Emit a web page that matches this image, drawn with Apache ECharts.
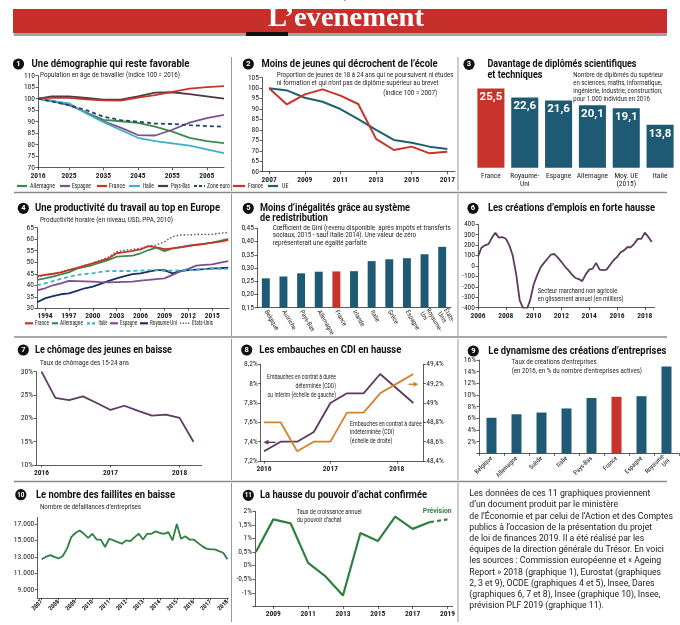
<!DOCTYPE html>
<html lang="fr"><head><meta charset="utf-8">
<script src="https://cdn.jsdelivr.net/npm/echarts@6/dist/echarts.min.js"></script>
<style>html,body{margin:0;padding:0;background:#fff;}#c{width:680px;height:625px;}</style>
</head><body><div id="c"></div>
<script>
// ================= DATA =================
// 1 - démographie
const demoYears = [2016,2020,2025,2030,2035,2040,2045,2050,2055,2060,2065,2070];
const demoAllemagne = [100,99,97.5,94,90.8,90.2,89.5,87.9,85.7,83,81.6,80.7];
const demoEspagne = [100,99,97.2,94,90.2,87.4,84.2,84,86.5,89.6,91.6,93];
const demoFrance = [100,100.5,100.4,99.7,99.3,99.2,100.5,101.6,103,104.4,105,105.5];
const demoItalie = [100,99,98,93.6,89.8,86.4,83,81.6,80.6,79.6,78,76.3];
const demoPaysBas = [100,101,101,100.3,99.6,99.6,101,102.6,102.8,102,101,100];
const demoZoneEuro = [100,98.8,97.2,95,92.2,90.7,90,89.2,89,88.5,88.1,87.8];
const demoTickYears = [2016,2025,2035,2045,2055,2065];
// 2 - décrochage
const ecoleYears = [2007,2008,2009,2010,2011,2012,2013,2014,2015,2016,2017];
const ecoleFrance = [100,92.2,97,99.4,96.4,92.4,75.7,70.4,72,68.8,69.6];
const ecoleUE = [100,98.9,95.4,93.5,90,85.2,80,75.2,73.9,72,70.9];
const ecoleTickYears = [2007,2009,2011,2013,2015,2017];
// 3 - diplômés
const diplomesPays = ['France','Royaume-\nUni','Espagne','Allemagne','Moy. UE\n(2015)','Italie'];
const diplomesValeurs = [25.5,22.6,21.6,20.1,19.1,13.8];
// 4 - productivité
const prodYears = [1993,1994,1995,1996,1997,1998,1999,2000,2001,2002,2003,2004,2005,2006,2007,2008,2009,2010,2011,2012,2013,2014,2015,2016,2017];
const prodFrance = [44.0,44.5,45.0,45.6,46.6,47.5,48.5,49.5,50.6,51.7,53.9,54.4,54.9,55.6,57.0,56.5,55.7,56.0,56.5,57.0,57.5,58.0,58.5,59.0,59.6];
const prodAllemagne = [42.3,43.0,43.8,44.7,45.6,47.2,48.0,48.8,49.9,51.0,52.4,52.7,52.9,53.9,55.3,56.3,54.8,56.0,56.6,57.2,57.6,58.0,58.5,59.3,60.1];
const prodItalie = [40.0,40.8,41.8,42.8,43.7,44.5,44.9,45.2,45.8,46.2,46.2,46.2,46.2,46.4,46.6,46.5,46.2,46.4,46.5,46.6,46.8,47.0,47.1,47.1,47.1];
const prodEspagne = [37.8,38.7,40.0,40.8,41.9,41.8,41.7,41.6,41.4,41.3,41.4,41.5,41.6,42.0,42.3,42.7,43.0,44.5,46.0,47.1,48.5,48.9,49.1,49.8,50.5];
const prodRoyaumeUni = [32.6,34.3,35.3,36.1,36.5,37.6,38.7,39.4,40.6,41.9,43.0,44.0,44.8,45.2,45.9,46.6,46.6,45.2,46.2,46.6,46.8,47.0,47.3,47.4,47.6];
const prodEtatsUnis = [43.6,44.3,44.8,45.8,46.8,47.6,48.6,49.6,50.8,52.3,54.6,55.2,55.6,56.0,56.9,57.5,58.9,61.1,61.8,61.9,62.0,62.1,62.1,62.6,63.0];
const prodTickYears = [1994,1997,2000,2003,2006,2009,2012,2015];
// 5 - Gini
const giniPays = ['Belgique','Autriche','Pays-Bas','Allemagne','France','Irlande','Italie','Grèce','Espagne','Royaume-\nUni','États-\nUnis'];
const giniValeurs = [0.261,0.268,0.280,0.286,0.287,0.288,0.326,0.333,0.337,0.352,0.380];
// 6 - créations d'emplois (trimestriel, depuis 2006 T1)
const emploiDebut = 2006;
const emploiValeurs = [90,175,198,210,270,318,272,278,262,200,100,-80,-330,-405,-418,-330,-180,-90,-15,30,70,110,115,80,40,-5,-40,-80,-115,-125,-145,-80,-35,-25,30,-35,-40,-35,10,55,85,130,150,180,180,215,260,260,320,280,230];
const emploiTickYears = [2006,2008,2010,2012,2014,2016,2018];
// 7 - chômage des jeunes
const chomageDates = [2016,2016.2,2016.4,2016.6,2016.8,2017,2017.2,2017.4,2017.6,2017.8,2018,2018.2];
const chomageValeurs = [30,24.4,23.9,24.7,23.3,21.8,22.7,21.6,20.6,20.8,20.1,15.0];
const chomageTickYears = [2016,2017,2018];
// 8 - embauches
const embDates = [2016,2016.25,2016.5,2016.75,2017,2017.25,2017.5,2017.75,2018,2018.25];
const embCDD = [7.3,7.4,7.4,7.5,7.8,7.9,7.9,8.1,7.95,7.8];
const embCDI = [48.8,48.8,48.5,48.6,48.6,48.9,48.9,49.1,49.2,49.3];
const embTickYears = [2016,2017,2018];
// 9 - créations d'entreprises
const entPays = ['Belgique','Allemagne','Suède','Italie','Pays-Bas','France','Espagne','Royaume-\nUni'];
const entValeurs = [6.1,6.7,7.0,7.7,9.5,9.7,9.8,14.9];
// 10 - faillites (trimestriel, depuis 2007 T1)
const faillitesDebut = 2007;
const faillitesValeurs = [12700,13000,13200,13000,12800,13100,14000,15400,15900,16200,15800,15300,15800,15100,15100,14200,15200,15000,14800,14600,15000,14900,15400,15800,15100,15800,15800,16100,15900,15800,16000,15000,17000,15200,15500,15100,15100,14700,14300,14000,13900,13900,13700,13500,12700];
const faillitesTickYears = [2007,2008,2009,2010,2011,2012,2013,2014,2015,2016,2017,2018];
const faillitesTickValues = [9000,11000,13000,15000,17000];
// 11 - pouvoir d'achat
const paYears = [2008,2009,2010,2011,2012,2013,2014,2015,2016,2017,2018];
const paValeurs = [0.5,1.7,1.55,0.1,-0.4,-1.1,1.2,0.9,1.8,1.35,1.6];
const paPrevYears = [2018,2019];
const paPrevValeurs = [1.6,1.7];
const paTickYears = [2009,2011,2013,2015,2017,2019];

// ================= STYLE / LAYOUT =================
const mctx = document.createElement('canvas').getContext('2d');
function tw(t, font){ mctx.font = font; return mctx.measureText(t).width; }
function hasFont(f){ const s='AllemagneWwIi1234'; return Math.abs(tw(s,'20px monospace')-tw(s,"20px '"+f+"', monospace"))>0.5; }
const NARROW = ['Liberation Sans Narrow','Roboto Condensed','DejaVu Sans Condensed'].find(hasFont);
const FF = "Roboto, 'Noto Sans', sans-serif";
const NF = NARROW ? "'"+NARROW+"', Roboto, sans-serif" : FF;
const LBL = NARROW ? {fontFamily:NF, fontSize:7.5} : {fontFamily:FF, fontSize:6.8};

const RED='#c8332b', BLUE='#1f5a75', GREEN='#2f8040', PLUM='#5e3a5e', ORANGE='#d4802c';
const cAll='#3b8a4a', cEsp='#7d4f8c', cIta='#3fb0c6', cPB='#4a3a45', cZE='#1e4766', cUE='#1d616c', cRU='#1c2f66', cUS='#555';

const AL = {show:true, onZero:false, lineStyle:{color:'#333', width:0.8}};
const AT = {show:true, length:2.5, lineStyle:{color:'#333', width:0.8}};
const lab = (o) => Object.assign({color:'#222', margin:3}, LBL, o||{});
const fmtNum = v => String(+(+v).toFixed(2)).replace('.', ',');

function g(l,t,w,h){ return {left:l, top:t, width:w, height:h, containLabel:false, outerBoundsMode:'none'}; }
const grids = [
  g(38,75.7,186,92), g(262,77.7,193,94), g(474,74.4,203,93.3),
  g(37,227.7,192,80.6), g(257,228.3,194,79.4), g(478,224.3,176.5,83.4),
  g(36,371.7,165.7,93.3), g(260.7,364.3,162.6,96.7), g(479,360,200,93.4),
  g(37.3,517.4,191,80.5), g(255,511.2,197.7,95.2)
];
function vx(gi,min,max,ticks,extra){
  return Object.assign({gridIndex:gi, type:'value', min, max, splitLine:{show:false}, axisLine:AL,
    axisTick:Object.assign({}, AT, {customValues:ticks}),
    axisLabel:lab({customValues:ticks, formatter:v=>String(v), fontWeight:'bold', margin:4})}, extra||{});
}
function vy(gi,min,max,interval,fmt,extra){
  return Object.assign({gridIndex:gi, type:'value', min, max, interval, splitLine:{show:false}, axisLine:AL, axisTick:AT,
    axisLabel:lab({formatter:fmt})}, extra||{});
}
const xAxes = [
  vx(0,2016,2070,demoTickYears),
  vx(1,2006.6,2017.43,ecoleTickYears),
  {gridIndex:2, type:'category', data:diplomesPays, axisLine:{show:false}, axisTick:{show:false},
    axisLabel:lab({interval:0, lineHeight:8, margin:4})},
  vx(3,1993,2017.1,prodTickYears),
  {gridIndex:4, type:'category', data:giniPays, axisLine:AL, axisTick:{show:false},
    axisLabel:lab({interval:0, rotate:-60, fontSize:6.5, lineHeight:7, margin:3})},
  vx(5,2006,2018.7,emploiTickYears),
  vx(6,2015.92,2018.32,chomageTickYears),
  vx(7,2015.95,2018.4,embTickYears),
  {gridIndex:8, type:'category', data:entPays, axisLine:AL, axisTick:Object.assign({},AT),
    axisLabel:lab({interval:0, rotate:45, fontSize:6.5, lineHeight:7, margin:4})},
  vx(9,2006.74,2018.05,faillitesTickYears,{axisLabel:lab({customValues:faillitesTickYears, formatter:v=>String(v), rotate:45, fontSize:6.2, fontWeight:'bold', margin:3})}),
  vx(10,2007.95,2019.3,paTickYears)
];
const yAxes = [
  vy(0,70,110,5,v=>String(v)),
  vy(1,60,105,5,v=>String(v)),
  {gridIndex:2, type:'value', min:0, max:30, show:false},
  vy(3,30,65,5,v=>String(v)),
  vy(4,0.15,0.45,0.05,v=>v.toFixed(2).replace('.',',')),
  vy(5,-400,400,100,v=>String(v)),
  vy(6,10,30,5,v=>v+'%'),
  vy(7,7.2,8.2,0.2,v=>fmtNum(v)+'%'),
  vy(7,48.4,49.4,0.2,v=>fmtNum(v)+'%',{position:'right'}),
  vy(8,0,16,2,v=>v===0?'':v+'%'),
  {gridIndex:9, type:'value', min:8000, max:17800, splitLine:{show:false}, axisLine:AL,
    axisTick:Object.assign({},AT,{customValues:faillitesTickValues}),
    axisLabel:lab({customValues:faillitesTickValues, formatter:v=>(v/1000)+'.000'})},
  vy(10,-1.5,2,0.5,v=>v===-1.5?'':fmtNum(v)+'%')
];

function ln(name, xi, yi, xs, ys, color, width, dash, z){
  return {name, type:'line', xAxisIndex:xi, yAxisIndex:yi, data:xs.map((x,i)=>[x,ys[i]]),
    symbol:'none', silent:true, z:z||2, lineStyle:{color, width:width||1.8, type:dash||'solid', cap:'butt'}, itemStyle:{color}};
}
const emploiX = emploiValeurs.map((v,i)=>emploiDebut+i/4);
const faillitesX = faillitesValeurs.map((v,i)=>faillitesDebut+i/4);

const series = [
  ln('Allemagne',0,0,demoYears,demoAllemagne,cAll),
  ln('Espagne',0,0,demoYears,demoEspagne,cEsp),
  ln('Italie',0,0,demoYears,demoItalie,cIta),
  ln('Pays-Bas',0,0,demoYears,demoPaysBas,cPB),
  ln('France',0,0,demoYears,demoFrance,RED),
  ln('Zone euro',0,0,demoYears,demoZoneEuro,cZE,1.8,[4,3]),

  ln('UE',1,1,ecoleYears,ecoleUE,cUE,2),
  ln('France2',1,1,ecoleYears,ecoleFrance,RED,2),

  {type:'bar', xAxisIndex:2, yAxisIndex:2, barWidth:'80%', silent:true,
    data:diplomesValeurs.map((v,i)=>({value:v, itemStyle:{color: diplomesPays[i]==='France'?RED:BLUE}})),
    label:{show:true, position:'insideTop', distance:3, color:'#fff', fontFamily:FF, fontWeight:'bold', fontSize:11.5,
      formatter:p=>String(p.value).replace('.',',')}},

  ln('États-Unis',3,3,prodYears,prodEtatsUnis,cUS,1.4,[1.5,2]),
  ln('Royaume-Uni',3,3,prodYears,prodRoyaumeUni,cRU),
  ln('Espagne4',3,3,prodYears,prodEspagne,cEsp),
  ln('Italie4',3,3,prodYears,prodItalie,cIta,1.8,[4,3]),
  ln('Allemagne4',3,3,prodYears,prodAllemagne,cAll),
  ln('France4',3,3,prodYears,prodFrance,RED),

  {type:'bar', xAxisIndex:4, yAxisIndex:4, barWidth:'45%', silent:true,
    data:giniValeurs.map((v,i)=>({value:v, itemStyle:{color: giniPays[i]==='France'?RED:BLUE}}))},

  ln('emplois',5,5,emploiX,emploiValeurs,PLUM,1.8),
  ln('chomage',6,6,chomageDates,chomageValeurs,PLUM,1.8),
  ln('CDD',7,7,embDates,embCDD,PLUM,1.8),
  ln('CDI',7,8,embDates,embCDI,ORANGE,1.8),

  {type:'bar', xAxisIndex:8, yAxisIndex:9, barWidth:'40%', silent:true,
    data:entValeurs.map((v,i)=>({value:v, itemStyle:{color: entPays[i]==='France'?RED:BLUE}}))},

  ln('faillites',9,10,faillitesX,faillitesValeurs,GREEN,1.8),
  ln('pa',10,11,paYears,paValeurs,GREEN,2.2),
  ln('paPrev',10,11,paPrevYears,paPrevValeurs,GREEN,2.2,[4,3])
];

// ================= GRAPHIC (titles, texts, separators) =================
const E = [];
function add(type, props){ E.push(Object.assign({type, silent:true}, props)); }
function rect(x,y,w,h,fill){ add('rect',{shape:{x,y,width:w,height:h},style:{fill}}); }
function seg(x1,y1,x2,y2,stroke,w,dash){ add('line',{shape:{x1,y1,x2,y2},style:{stroke,lineWidth:w,lineDash:dash||null}}); }
function txt(x,y,s,font,fill,align,sx){ add('text',{x,y,scaleX:sx||1,style:{text:s,font,fill,align:align||'left',verticalAlign:'middle'}}); }
function fit(x,y,s,font,fill,w,align){ txt(x,y,s,font,fill,align,w/tw(s,font)); }
function lines(x,y,arr,font,fill,w0,lh,align){ const sx=w0/tw(arr[0],font); arr.forEach((s,i)=>txt(x,y+i*lh,s,font,fill,align,sx)); }

// header
txt(340,-3.5,'dimanche 30 septembre 2018','bold 9px '+FF,'#d0605a','center');
rect(13,9,654,24,'#c7302a');
rect(14,33,653,3,'#a3a3a3');
rect(246,32,42,4,'#111');
fit(346,19.5,'L’evenement',"bold 27px 'Liberation Serif', 'DejaVu Serif', serif",'#fff',156,'center');

// separators
[192.5,337,481.5].forEach(y=>seg(14,y,667,y,'#8a8a8a',1.5));
[[57,191],[194,336],[339,480],[483,622]].forEach(([a,b])=>{ seg(231.5,a,231.5,b,'#9a9a9a',1); seg(458,a,458,b,'#9a9a9a',1); });

// titles
const TF = 'bold 11.5px '+FF;
const titles = [
  [1,18.5,64,31.5,['Une démographie qui reste favorable'],158,0],
  [2,248.3,64,261.5,['Moins de jeunes qui décrochent de l’école'],176,0],
  [3,469,64.3,487.5,['Davantage de diplômés scientifiques','et techniques'],149,10.7],
  [4,23.3,208.3,35,['Une productivité du travail au top en Europe'],185,0],
  [5,248.3,208.3,260,['Moins d’inégalités grâce au système','de redistribution'],150,9.8],
  [6,473,208.3,488,['Les créations d’emplois en forte hausse'],167,0],
  [7,23.3,350,35,['Le chômage des jeunes en baisse'],137,0],
  [8,246.7,350,259.3,['Les embauches en CDI en hausse'],142,0],
  [9,473.3,351,488.3,['Le dynamisme des créations d’entreprises'],178,0],
  [10,20.8,494.7,36,['Le nombre des faillites en baisse'],139,0],
  [11,248.3,495.3,260,['La hausse du pouvoir d’achat confirmée'],167,0]
];
titles.forEach(([n,cx,cy,tx,ls,w,lh])=>{
  add('circle',{shape:{cx,cy,r:5.6},style:{fill:'#111'}});
  txt(cx,cy+0.3,String(n),'bold '+(n>9?6.3:7.5)+'px '+FF,'#fff','center');
  lines(tx,cy,ls,TF,'#111',w,lh);
});

// subtitles / notes
const SF = '7px '+FF;
lines(40,75,['Population en âge de travailler (indice 100 = 2016)'],SF,'#222',140,0);
lines(276.7,75,['Proportion de jeunes de 18 à 24 ans qui ne poursuivent ni études','ni formation et qui n’ont pas de diplôme supérieur au brevet'],SF,'#222',176.7,8.3);
lines(383.3,93,['(indice 100 = 2007)'],SF,'#222',54,0);
lines(573.3,75.7,['Nombre de diplômés du supérieur','en sciences, maths, informatique,','ingénierie, industrie, construction,','pour 1.000 individus en 2016'],SF,'#222',90,7.9);
lines(40,220,['Productivité horaire (en niveau, USD, PPA, 2010)'],SF,'#222',133,0);
lines(272.7,228.3,['Cœfficient de Gini (revenu disponible  après impôts et transferts','sociaux, 2015 - sauf Italie 2014). Une valeur de zéro','représenterait une égalité parfaite'],SF,'#222',178,7.4);
lines(537.7,291,['Secteur marchand non agricole','en glissement annuel (en milliers)'],SF,'#222',79.6,8);
lines(40,363.3,['Taux de chômage des 15-24 ans'],SF,'#222',89,0);
lines(336,377.7,['Embauches en contrat à durée','déterminée (CDD)','ou intérim (échelle de gauche)'],SF,'#222',69,8.6,'right');
lines(350,424.3,['Embauches en contrat à durée','indéterminée (CDI)','(échelle de droite)'],SF,'#222',71.7,8.4);
lines(511.7,362.3,['Taux de créations d’entreprises','(en 2016, en % du nombre d’entreprises actives)'],SF,'#222',85,9.4);
lines(40,507.3,['Nombre de défaillances d’entreprises'],SF,'#222',101,0);
lines(296.7,512,['Taux de croissance annuel','du pouvoir d’achat'],SF,'#222',65,8);
fit(451.7,511.3,'Prévision','bold 8px '+FF,GREEN,29,'right');

// arrows chart 8
seg(267,442.3,275.5,442.3,PLUM,1.4);
add('polygon',{shape:{points:[[263.5,442.3],[268.5,439.8],[268.5,444.8]]},style:{fill:PLUM}});
seg(408.5,384.3,415,384.3,ORANGE,1.4);
add('polygon',{shape:{points:[[418.5,384.3],[413.5,381.8],[413.5,386.8]]},style:{fill:ORANGE}});

// legends
const LF = '7px '+NF;
function leg(x1,x2,y,color,dash,label,tx,w,lw){
  seg(x1,y,x2,y,color,lw||2.2,dash);
  fit(tx,y,label,LF,'#222',w);
}
leg(17,27,186,cAll,null,'Allemagne',30,25);
leg(60,70,186,cEsp,null,'Espagne',72,19);
leg(97,107,186,RED,null,'France',109,16);
leg(129,140,186,cIta,null,'Italie',143,11);
leg(158,168,186,cPB,null,'Pays-Bas',171,19);
leg(194,205,186,cZE,[3,2],'Zone euro',207,23);
leg(233,245,186,RED,null,'France',248,15);
leg(268,278,186,cUE,null,'UE',282,6.5);
leg(25,33,323.3,RED,null,'France',35,14);
leg(52,58,323.3,cAll,null,'Allemagne',60,23);
leg(87,97,323.3,cIta,[3,2],'Italie',98.5,9);
leg(110,118,323.3,cEsp,null,'Espagne',120,17);
leg(140,148,323.3,cRU,null,'Royaume-Uni',150,27);
leg(180,190,323.3,cUS,[1.2,1.5],'États-Unis',192,21,1.6);

// paragraph
const para = ['Les données de ces 11 graphiques proviennent','d’un document produit par le ministère','de l’Économie et par celui de l’Action et des Comptes','publics à l’occasion de la présentation du projet','de loi de finances 2019. Il a été réalisé par les','équipes de la direction générale du Trésor. En voici','les sources : Commission européenne et « Ageing','Report » 2018 (graphique 1), Eurostat (graphiques','2, 3 et 9), OCDE (graphiques 4 et 5), Insee, Dares','(graphiques 6, 7 et 8), Insee (graphique 10), Insee,','prévision PLF 2019 (graphique 11).'];
const pfs = 10*204/tw(para[2],'10px '+FF);
para.forEach((s,i)=>txt(469.3,494+i*11.2,s,pfs.toFixed(2)+'px '+FF,'#1a1a1a','left'));

const chart = echarts.init(document.getElementById('c'), null, {renderer:'canvas', width:680, height:625});
chart.setOption({backgroundColor:'#fff', animation:false, grid:grids, xAxis:xAxes, yAxis:yAxes, series, graphic:{elements:E}});
</script></body></html>
